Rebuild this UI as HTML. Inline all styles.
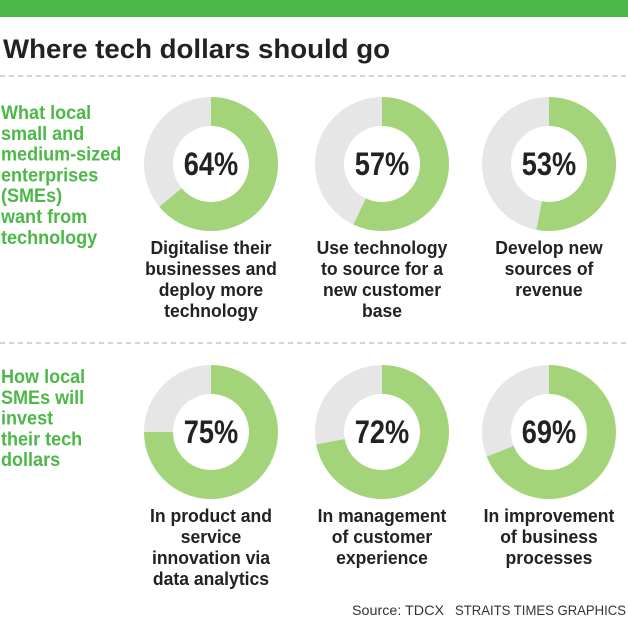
<!DOCTYPE html>
<html><head><meta charset="utf-8"><style>
body{margin:0;background:#fff}
svg{display:block;font-family:"Liberation Sans",sans-serif}
</style></head><body>
<svg width="628" height="621" viewBox="0 0 628 621">
<rect x="0" y="0" width="628" height="17" fill="#4cb847"/>
<text x="3" y="58" font-size="27" font-weight="bold" fill="#222" textLength="387" lengthAdjust="spacingAndGlyphs">Where tech dollars should go</text>
<line x1="0" y1="76" x2="628" y2="76" stroke="#aaa" stroke-dasharray="5,4"/>
<line x1="0" y1="343" x2="628" y2="343" stroke="#aaa" stroke-dasharray="5,4"/>
<g id="left" fill="#4cb847" font-weight="bold" font-size="19"></g>
<g id="donuts"></g>
<text x="352" y="615" font-size="14" fill="#333" textLength="92" lengthAdjust="spacingAndGlyphs">Source: TDCX</text>
<text x="455" y="615" font-size="14" fill="#333" textLength="171" lengthAdjust="spacingAndGlyphs">STRAITS TIMES GRAPHICS</text>
</svg>
<script>
const values = [64, 57, 53, 75, 72, 69];
const captions = [
 ["Digitalise their","businesses and","deploy more","technology"],
 ["Use technology","to source for a","new customer","base"],
 ["Develop new","sources of","revenue"],
 ["In product and","service","innovation via","data analytics"],
 ["In management","of customer","experience"],
 ["In improvement","of business","processes"]
];
const leftLabels = [
 ["What local","small and","medium-sized","enterprises","(SMEs)","want from","technology"],
 ["How local","SMEs will","invest","their tech","dollars"]
];
const NS="http://www.w3.org/2000/svg";
const svg=document.querySelector('svg');
const colX=[211,382,549], rowY=[164,432], R=67, r=38;
function mk(t,a,p){const e=document.createElementNS(NS,t);for(const k in a)e.setAttribute(k,a[k]);(p||svg).appendChild(e);return e;}
const lg=document.getElementById('left');
const leftTop=[119,383];
leftLabels.forEach((lines,i)=>{
 lines.forEach((s,j)=>{
  const t=mk('text',{x:0,y:leftTop[i]+j*20.8,transform:'translate(1,0) scale(0.95,1)'},lg);
  t.textContent=s;
  
  
 });
});
const dg=document.getElementById('donuts');
values.forEach((v,i)=>{
 const cx=colX[i%3], cy=rowY[Math.floor(i/3)];
 const g=mk('g',{},dg);
 
 
 mk('circle',{cx,cy,r:R,fill:'#e6e6e6'},g);
 const a=v/100*2*Math.PI;
 const ex=cx+R*Math.sin(a), ey=cy-R*Math.cos(a);
 const p=mk('path',{d:`M${cx},${cy} L${cx},${cy-R} A${R},${R} 0 ${v>50?1:0} 1 ${ex},${ey} Z`,fill:'#a3d47a'},g);
 
 
 mk('circle',{cx,cy,r,fill:'#fff'},g);
 const t=mk('text',{x:cx,y:cy+11,'text-anchor':'middle','font-size':32,'font-weight':'bold',fill:'#222',transform:`translate(${cx},0) scale(0.85,1) translate(${-cx},0)`},g);
 t.textContent=v+'%';
 
 
 const capTop=cy+90;
 captions[i].forEach((s,j)=>{
  const c=mk('text',{x:cx,y:capTop+j*21,'text-anchor':'middle','font-size':18.5,'font-weight':'bold',fill:'#222',transform:`translate(${cx},0) scale(0.95,1) translate(${-cx},0)`},g);
  c.textContent=s;
  
  
 });
});
</script>
</body></html>
